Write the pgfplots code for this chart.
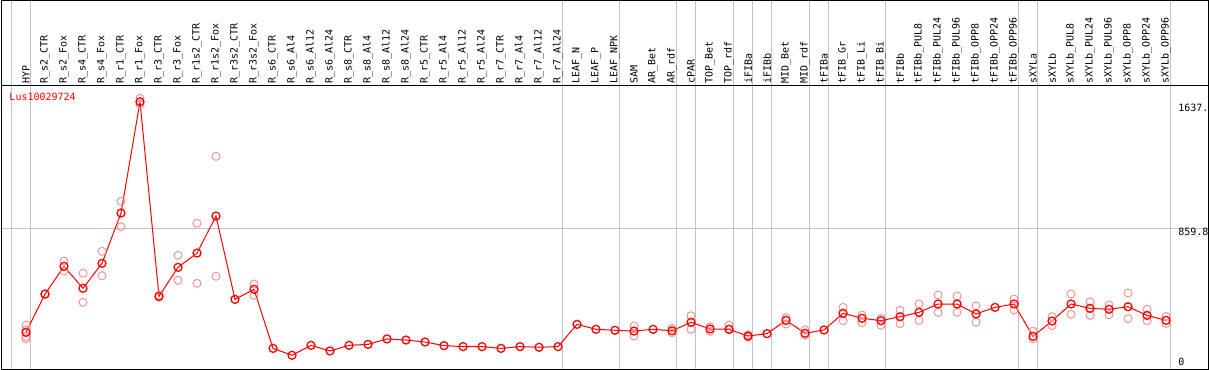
\documentclass[border=0pt]{standalone}
\usepackage{fontspec}
\setmainfont{DejaVu Sans Mono}
\usepackage{pgfplots}
\pgfplotsset{compat=1.18}
\definecolor{rep}{RGB}{240,150,150}
\definecolor{gridgray}{RGB}{195,195,195}
\begin{document}
\begin{tikzpicture}
\begin{axis}[
  at={(1bp,1bp)}, anchor=south west,
  scale only axis, width=1207bp, height=368.5bp,
  xmin=-1.3158, xmax=62.2105,
  ymin=-18.73, ymax=2282,
  axis line style={black, line width=1bp},
  major tick length=0pt, minor tick length=0pt,
  xtick={0,...,60},
  xticklabels={HYP,R\_s2\_CTR,R\_s2\_Fox,R\_s4\_CTR,R\_s4\_Fox,R\_r1\_CTR,R\_r1\_Fox,R\_r3\_CTR,R\_r3\_Fox,R\_r1s2\_CTR,R\_r1s2\_Fox,R\_r3s2\_CTR,R\_r3s2\_Fox,R\_s6\_CTR,R\_s6\_Al4,R\_s6\_Al12,R\_s6\_Al24,R\_s8\_CTR,R\_s8\_Al4,R\_s8\_Al12,R\_s8\_Al24,R\_r5\_CTR,R\_r5\_Al4,R\_r5\_Al12,R\_r5\_Al24,R\_r7\_CTR,R\_r7\_Al4,R\_r7\_Al12,R\_r7\_Al24,LEAF\_N,LEAF\_P,LEAF\_NPK,SAM,AR\_Bet,AR\_rdf,cPAR,TOP\_Bet,TOP\_rdf,iFIBa,iFIBb,MID\_Bet,MID\_rdf,tFIBa,tFIB\_Gr,tFIB\_Li,tFIB\_Bi,tFIBb,tFIBb\_PUL8,tFIBb\_PUL24,tFIBb\_PUL96,tFIBb\_OPP8,tFIBb\_OPP24,tFIBb\_OPP96,sXYLa,sXYLb,sXYLb\_PUL8,sXYLb\_PUL24,sXYLb\_PUL96,sXYLb\_OPP8,sXYLb\_OPP24,sXYLb\_OPP96},
  xticklabel pos=upper,
  xticklabel shift=-83.5bp,
  xticklabel style={rotate=90, anchor=west, inner sep=0pt, font=\fontsize{10bp}{12bp}\selectfont},
  minor xtick={-0.7895,0.2105,28.2105,31.2105,34.2105,35.2105,37.2105,38.2105,39.2105,41.2105,42.2105,45.2105,52.2105,53.2105,60.2105},
  ytick={0,859.8,1637},
  yticklabels={\raisebox{8.3bp}{0},859.8,1637.},
  minor ytick={859.8},
  xminorgrids=true, yminorgrids=true,
  minor grid style={gridgray, line width=1bp},
  yticklabel pos=right,
  yticklabel shift=-30bp,
  yticklabel style={anchor=base west, inner sep=0pt, yshift=-7.6bp, font=\fontsize{10bp}{12bp}\selectfont},
  clip=false,
]
\draw[black, line width=1bp] (rel axis cs:0,0.7706) -- (rel axis cs:1,0.7706);
\addplot[only marks, mark=o, mark size=4bp, rep, mark options={line width=1bp}] coordinates {
(0,256)(0,225)(0,183)(0,170)(1,449)
(2,655)(2,593)(3,579)(3,398)(4,716)(4,564)(5,1028)(5,870)(6,1671)(6,1635)
(7,430)(7,440)(8,691)(8,535)(9,891)(9,516)(10,1309)(10,560)(12,512)(12,441)
(32,250)(32,187)(34,235)(34,208)(35,314)(35,229)(36,245)(36,216)(37,256)(37,229)
(38,195)(38,180)(40,301)(40,262)(41,225)(41,193)(43,366)(43,283)(44,318)(44,270)
(45,297)(45,254)(46,348)(46,264)(47,387)(47,285)(48,443)(48,335)(49,437)(49,335)
(50,375)(50,273)(52,418)(52,350)(53,218)(53,170)(54,308)(54,252)(55,449)(55,322)
(56,400)(56,316)(57,381)(57,320)(58,456)(58,296)(59,354)(59,283)(60,310)(60,266)
};
\addplot[red, line width=1bp, mark=o, mark size=4bp, mark options={line width=1.3bp}] coordinates {
(0,210)(1,449)(2,622)(3,485)(4,641)(5,955)(6,1650)(7,435)(8,616)(9,705)
(10,936)(11,416)(12,479)(13,110)(14,67)(15,129)(16,94)(17,129)(18,135)(19,169)
(20,162)(21,150)(22,127)(23,121)(24,121)(25,110)(26,121)(27,117)(28,121)(29,260)
(30,229)(31,223)(32,218)(33,229)(34,220)(35,273)(36,231)(37,229)(38,187)(39,202)
(40,285)(41,204)(42,225)(43,329)(44,298)(45,283)(46,308)(47,335)(48,387)(49,387)
(50,325)(51,366)(52,387)(53,185)(54,281)(55,387)(56,360)(57,354)(58,370)(59,316)
(60,285)
};
\node[anchor=west, inner sep=0pt, text=red, font=\fontsize{10bp}{12bp}\selectfont] at (axis cs:-0.879,1681.5) {Lus10029724};
\end{axis}
\pgfresetboundingbox
\path (0,0) rectangle (1209bp,370bp);
\end{tikzpicture}
\end{document}
